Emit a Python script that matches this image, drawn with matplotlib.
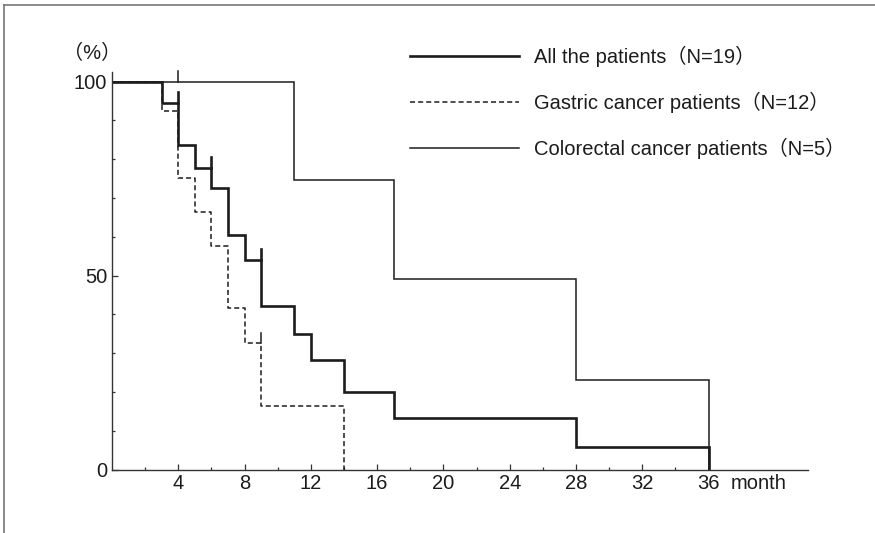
import numpy as np
import matplotlib
matplotlib.use("Agg")
import matplotlib.pyplot as plt
from matplotlib.lines import Line2D

# Latin text in an Arial-like face, full-width brackets fall back to the CJK font
plt.rcParams['font.family'] = ['Liberation Sans', 'Noto Sans CJK JP']

# Survival (%), step after each month value
allMonths = [0, 3, 4, 5, 6, 7, 8, 9, 11, 12, 14, 17, 28, 36]
allSurv = [100, 94.6, 83.7, 77.8, 72.5, 60.5, 54.0, 42.2, 34.9, 28.2, 20.1, 13.2, 5.7, 0]
allCensor = [4, 6, 9]

gastricMonths = [0, 3, 4, 5, 6, 7, 8, 9, 14]
gastricSurv = [100, 92.3, 75.1, 66.3, 57.7, 41.6, 32.5, 16.4, 0]
gastricCensor = [9]

colorectalMonths = [0, 11, 17, 28, 36]
colorectalSurv = [100, 74.7, 49.0, 23.1, 0]
colorectalCensor = [4]

seriesLabels = ["All the patients（N=19）",
                "Gastric cancer patients（N=12）",
                "Colorectal cancer patients（N=5）"]

xTicks = [4, 8, 12, 16, 20, 24, 28, 32, 36]
xMinorTicks = [2, 6, 10, 14, 18, 22, 26, 30, 34]
yTicks = [0, 50, 100]
yMinorTicks = [10, 20, 30, 40, 60, 70, 80, 90]

ink = '#1c1c1c'
fs = 14.5


# level of the curve just before month t (where the censor tick sits)
def levelBefore(months, surv, t):
    idx = max(i for i, m in enumerate(months) if m < t)
    return surv[idx]


def drawCurve(ax, months, surv, censor, **style):
    line, = ax.step(months, surv, where='post', color=ink, solid_joinstyle='miter', **style)
    for t in censor:
        y = levelBefore(months, surv, t)
        ax.plot([t, t], [y, y + 2.8], color=ink, lw=style.get('lw', 1.2), clip_on=False)
    return line


fig = plt.figure(figsize=(8.75, 5.33), dpi=100)
ax = fig.add_axes([112 / 875, 1 - 469.5 / 533, (808 - 112) / 875, (469.5 - 72.3) / 533])

lAll = drawCurve(ax, allMonths, allSurv, allCensor, lw=1.9)
lGas = drawCurve(ax, gastricMonths, gastricSurv, gastricCensor, lw=1.1, linestyle=(0, (3.3, 2.0)))
lCol = drawCurve(ax, colorectalMonths, colorectalSurv, colorectalCensor, lw=1.1)

ax.set_xlim(0, 42)
ax.set_ylim(0, 102.4)
ax.spines['top'].set_visible(False)
ax.spines['right'].set_visible(False)
for side in ['left', 'bottom']:
    ax.spines[side].set_color('#333333')
    ax.spines[side].set_linewidth(1.0)

ax.set_xticks(xTicks)
ax.set_xticks(xMinorTicks, minor=True)
ax.set_yticks(yTicks)
ax.set_yticks(yMinorTicks, minor=True)
ax.tick_params(which='both', direction='in', color='#333333', width=0.9, labelsize=fs, labelcolor=ink)
ax.tick_params(which='major', length=4.3, pad=3.5)
ax.tick_params(which='minor', length=2.2)

ax.annotate('month', xy=(36, 0), xycoords='data', xytext=(16, -3.5), textcoords='offset points',
            ha='left', va='top', fontsize=fs, color=ink)
fig.text(92 / 875, 1 - 53 / 533, '（%）', ha='center', va='center', fontsize=fs, color=ink)

fig.legend([lAll, lGas, lCol], seriesLabels, loc='upper left',
           bbox_to_anchor=(410 / 875, 1 - 46 / 533), frameon=False, fontsize=fs,
           handlelength=5.4, handletextpad=0.75, labelspacing=1.23,
           borderpad=0, borderaxespad=0, labelcolor=ink)

# thin frame on top and left of the scanned figure
fig.add_artist(Line2D([4 / 875, 1], [1 - 5 / 533, 1 - 5 / 533], color='#777777', lw=1.2))
fig.add_artist(Line2D([4 / 875, 4 / 875], [0, 1 - 5 / 533], color='#777777', lw=1.2))

fig.savefig('out.png', dpi=100)
